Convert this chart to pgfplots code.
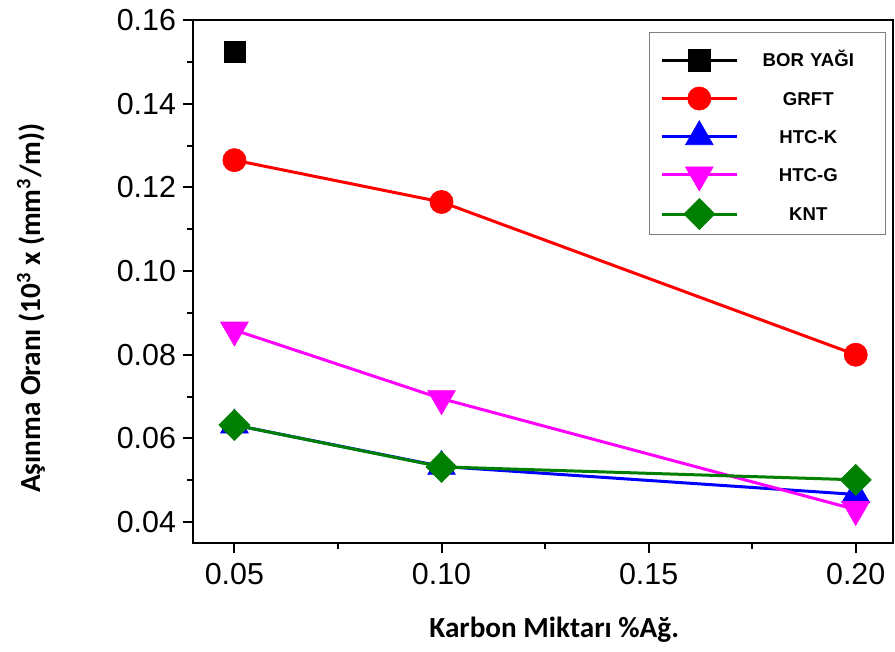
\documentclass[border=0pt]{standalone}
\usepackage{fontspec}
\setmainfont{Liberation Sans}
\newfontfamily\carlito{Carlito}
\usepackage{pgfplots}
\pgfplotsset{compat=1.18}
\definecolor{kntgreen}{RGB}{0,128,0}
\definecolor{htcg}{RGB}{255,0,255}
\definecolor{grft}{RGB}{255,0,0}
\definecolor{htck}{RGB}{0,0,255}
\begin{document}
\begin{tikzpicture}
\begin{axis}[
  scale only axis, width=350pt, height=261.5pt,
  xmin=0.04, xmax=0.209, ymin=0.035, ymax=0.16,
  xtick={0.05,0.10,0.15,0.20},
  ytick={0.04,0.06,0.08,0.10,0.12,0.14,0.16},
  minor xtick={0.075,0.125,0.175},
  minor ytick={0.05,0.07,0.09,0.11,0.13,0.15},
  scaled ticks=false,
  tick align=outside, xtick pos=left, ytick pos=left,
  major tick length=5pt, minor tick length=3pt,
  every tick/.style={black, line width=1pt},
  axis line style={line width=1pt},
  /pgf/number format/assume math mode=true,
  xticklabel style={font=\fontsize{15.2}{18}\selectfont, yshift=-1.5pt, /pgf/number format/.cd, fixed, fixed zerofill, precision=2},
  yticklabel style={font=\fontsize{15.2}{18}\selectfont, /pgf/number format/.cd, fixed, fixed zerofill, precision=2},
  xlabel={Karbon Miktarı \%Ağ.},
  ylabel={Aşınma Oranı (10\textsuperscript{3} x (mm\textsuperscript{3}/m))},
  xlabel style={at={(axis description cs:0.516,-0.166)}, anchor=center, font=\carlito\bfseries\fontsize{14.6}{17}\selectfont},
  ylabel style={at={(axis description cs:-0.231,0.449)}, anchor=center, font=\carlito\bfseries\fontsize{14.6}{17}\selectfont},
  legend image code/.code={\draw[mark repeat=2,mark phase=2,#1] plot coordinates {(0pt,-2pt) (18.75pt,-2pt) (37.5pt,-2pt)};},
  legend style={at={(axis description cs:0.651,0.977)}, anchor=north west,
    draw=gray, line width=0.6pt, inner xsep=5.5pt, inner ysep=2.3pt,
    row sep=0pt,
    /tikz/every odd column/.append style={column sep=2pt},
    nodes={font=\bfseries\fontsize{9.3}{11}\selectfont, text width=66pt, align=center, inner sep=0pt, text height=14.85pt, text depth=4.25pt}},
]
\addplot[black, line width=1.5pt, mark=square*, mark size=5.3pt, mark options={solid, line width=0.3pt}]
  coordinates {(0.05,0.1524)};
\addlegendentry{BOR YAĞI}
\addplot[grft, line width=1.5pt, mark=*, mark size=5.8pt, mark options={solid, line width=0.3pt}]
  coordinates {(0.05,0.1265) (0.10,0.1165) (0.20,0.0800)};
\addlegendentry{GRFT}
\addplot[htck, line width=1.5pt, mark=triangle*, mark size=8pt, mark options={solid, line width=0.3pt}]
  coordinates {(0.05,0.0632) (0.10,0.0533) (0.20,0.0466)};
\addlegendentry{HTC-K}
\addplot[htcg, line width=1.5pt, mark=triangle*, mark size=8pt, mark options={solid, line width=0.3pt, rotate=180}]
  coordinates {(0.05,0.0859) (0.10,0.0695) (0.20,0.0430)};
\addlegendentry{HTC-G}
\addplot[kntgreen, line width=1.5pt, mark=square*, mark size=5.5pt, mark options={solid, line width=0.3pt, rotate=45}]
  coordinates {(0.05,0.0632) (0.10,0.0532) (0.20,0.0501)};
\addlegendentry{KNT}
\end{axis}
\pgfresetboundingbox
\useasboundingbox ([shift={(-96.5pt,-54.5pt)}]current axis.south west) rectangle ([shift={(1pt,10pt)}]current axis.north east);
\end{tikzpicture}
\end{document}
